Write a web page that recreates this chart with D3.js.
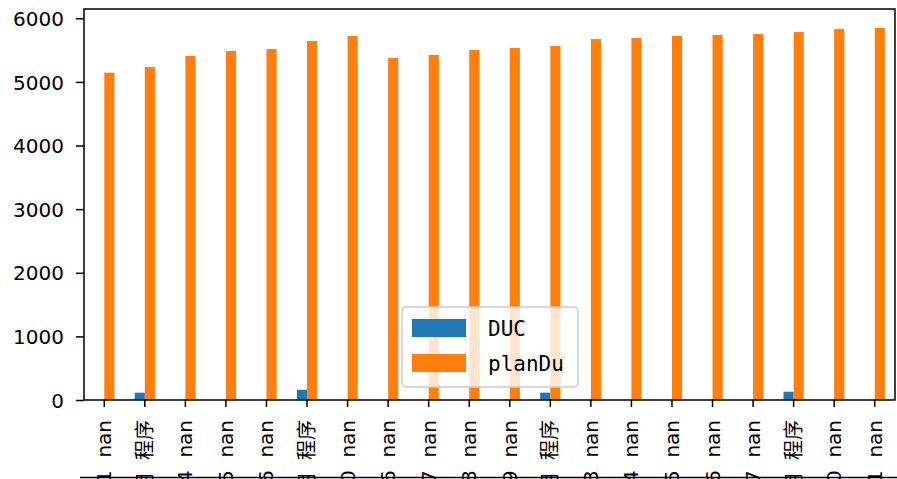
<!DOCTYPE html>
<html>
<head>
<meta charset="utf-8">
<script src="https://cdn.jsdelivr.net/npm/d3@7"></script>
<style>
  body { margin: 0; background: #fff; }
  svg { display: block; }
  .tick text { font-family: "DejaVu Sans", "Noto Sans CJK SC", sans-serif; }
</style>
</head>
<body>
<svg id="chart" width="897" height="479"></svg>
<script>
// category labels (only the end of each label is visible in the picture)
const categories = [
  "2021-01-01\u00a0\u00a0nan", "应用\u00a0\u00a0程序", "2021-01-04\u00a0\u00a0nan", "2021-01-05\u00a0\u00a0nan", "2021-01-06\u00a0\u00a0nan",
  "手机应用\u00a0\u00a0程序", "2021-01-10\u00a0\u00a0nan", "2021-01-16\u00a0\u00a0nan", "2021-01-17\u00a0\u00a0nan", "2021-01-18\u00a0\u00a0nan",
  "2021-01-19\u00a0\u00a0nan", "网页应用\u00a0\u00a0程序", "2021-01-23\u00a0\u00a0nan", "2021-01-24\u00a0\u00a0nan", "2021-01-25\u00a0\u00a0nan",
  "2021-01-26\u00a0\u00a0nan", "2021-01-27\u00a0\u00a0nan", "小程序应用\u00a0\u00a0程序", "2021-01-30\u00a0\u00a0nan", "2021-01-31\u00a0\u00a0nan"
];
// DUC series (null = NaN, no bar)
const ducValues = [null, 115, null, null, null, 160, null, null, null, null,
                   null, 115, null, null, null, null, null, 130, null, null];
// planDu series
const planDuValues = [5145, 5234, 5407, 5486, 5517, 5643, 5722, 5376, 5423, 5502,
                      5533, 5564, 5674, 5690, 5722, 5737, 5753, 5784, 5831, 5847];
const yTicks = [0, 1000, 2000, 3000, 4000, 5000, 6000];
const seriesNames = ["DUC", "planDu"];
const colors = ["#1f77b4", "#ff7f0e"];

const svg = d3.select("#chart");
const plotLeft = 84, plotRight = 895, plotTop = 9, plotBottom = 400;

const xScale = d3.scaleBand().domain(categories).range([plotLeft, plotRight]).padding(0);
const yScale = d3.scaleLinear().domain([0, 6146]).range([plotBottom, plotTop]);
const barW = xScale.bandwidth() * 0.25;

// bars: DUC on the left of the tick, planDu on the right
const series = [ducValues, planDuValues];
series.forEach((vals, si) => {
  svg.append("g")
    .selectAll("rect")
    .data(categories.map((c, i) => ({ c: c, v: vals[i] })).filter(d => d.v !== null))
    .enter().append("rect")
      .attr("x", d => xScale(d.c) + xScale.bandwidth() / 2 - barW + si * barW)
      .attr("y", d => yScale(d.v))
      .attr("width", barW)
      .attr("height", d => yScale(0) - yScale(d.v))
      .attr("fill", colors[si]);
});

// y axis
const yAxis = svg.append("g")
  .attr("transform", `translate(${plotLeft},0)`)
  .call(d3.axisLeft(yScale).tickValues(yTicks).tickSize(8).tickPadding(12).tickFormat(d3.format("d")));
yAxis.select(".domain").remove();
yAxis.selectAll("line").attr("stroke", "#000").attr("stroke-width", 1.5);
yAxis.selectAll("text").attr("fill", "#000").style("font-size", "20px").attr("dy", "0.36em");

// x axis with rotated labels
const xAxis = svg.append("g")
  .attr("transform", `translate(0,${plotBottom})`)
  .call(d3.axisBottom(xScale).tickSize(7).tickSizeOuter(0));
xAxis.select(".domain").remove();
xAxis.selectAll("line").attr("stroke", "#000").attr("stroke-width", 1.5);
xAxis.selectAll("text")
  .attr("fill", "#000")
  .style("font-size", "20px")
  .attr("text-anchor", "end")
  .attr("x", 0).attr("y", 0)
  .attr("dy", "0.35em")
  .attr("transform", "translate(0,20) rotate(-90)");

// frame
svg.append("rect")
  .attr("x", plotLeft).attr("y", plotTop)
  .attr("width", plotRight - plotLeft).attr("height", plotBottom - plotTop)
  .attr("fill", "none").attr("stroke", "#000").attr("stroke-width", 1.5);

// stray line at the very bottom of the picture
svg.append("line")
  .attr("x1", 80).attr("x2", 897).attr("y1", 477.5).attr("y2", 477.5)
  .attr("stroke", "#000").attr("stroke-width", 1.5);

// legend
const legend = svg.append("g").attr("transform", "translate(402,307)");
legend.append("rect")
  .attr("width", 176).attr("height", 80).attr("rx", 4)
  .attr("fill", "#fff").attr("fill-opacity", 0.8)
  .attr("stroke", "#ccc").attr("stroke-width", 1.5);
seriesNames.forEach((name, i) => {
  legend.append("rect")
    .attr("x", 10).attr("y", 12 + i * 35)
    .attr("width", 54).attr("height", 18)
    .attr("fill", colors[i]);
  legend.append("text")
    .attr("x", 86).attr("y", 29 + i * 35)
    .attr("fill", "#000")
    .style("font-family", "'DejaVu Sans Mono', monospace")
    .style("font-size", "21px")
    .text(name);
});
</script>
</body>
</html>
